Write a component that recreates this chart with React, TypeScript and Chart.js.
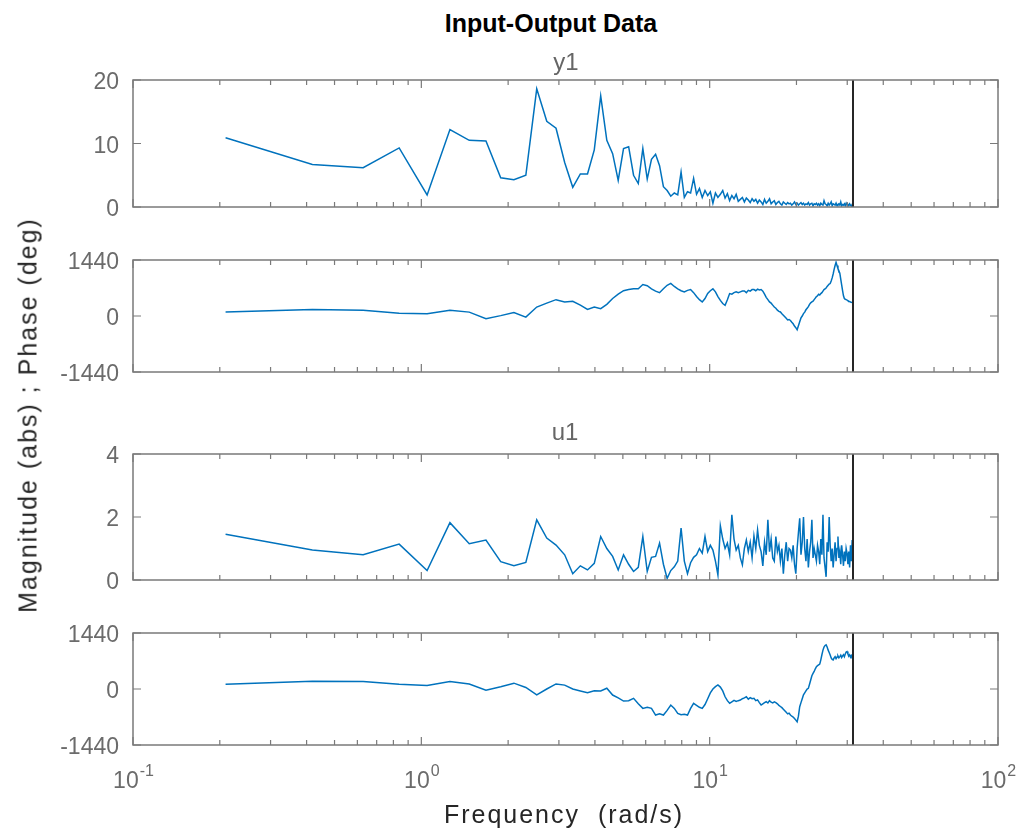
import React, { useEffect, useRef } from "react";
import { Chart, registerables } from "chart.js";

Chart.register(...registerables);

// ---------- data ----------
const FREQ_STEP = 0.20944; // rad/s, frequency grid spacing
const NYQUIST = 31.416; // rad/s
const X_TICKS = [0.1, 1, 10, 100];
const X_TICK_EXP = ["-1", "0", "1", "2"];

const Y_TICKS_MAG_Y1 = [0, 10, 20];
const Y_TICKS_PHASE = [-1440, 0, 1440];
const Y_TICKS_MAG_U1 = [0, 2, 4];

const magY1 = [
  10.9, 6.7, 6.2, 9.3, 1.9, 12.2, 10.5, 10.4, 4.6, 4.3, 5.0, 18.6, 13.5, 12.4, 7.0, 3.1,
  5.2, 5.2, 9.0, 17.5, 10.5, 8.4, 4.2, 9.2, 9.5, 5.0, 3.7, 9.2, 4.4, 7.5, 8.3, 6.5, 3.2,
  2.6, 1.7, 2.2, 1.9, 5.5, 1.5, 2.4,
  2.2, 4.5, 2.0, 2.9, 1.5, 2.6, 1.8, 2.4, 0.6, 2.2,
  1.5, 2.0, 2.6, 1.4, 2.1, 1.0, 1.8, 1.3, 2.0, 0.9, 1.2, 1.5, 0.8, 1.4, 1.1, 0.7, 1.3, 0.9, 1.2, 0.6,
  1.1, 0.8, 0.4, 1.2, 0.6, 0.9, 1.3, 0.5, 0.8, 1.0, 0.4, 0.7, 0.9, 0.5, 0.3, 0.8, 0.6, 0.4, 0.7, 0.5,
  0.6, 0.3, 0.5, 0.8, 0.4, 0.6, 0.3, 0.5, 0.7, 0.4, 0.6, 0.3, 0.5, 0.4, 0.7, 0.3, 0.5, 0.6, 0.2, 0.5,
  0.4, 0.6, 0.3, 0.5, 0.2, 0.6, 0.4, 0.3, 1.0, 0.5, 0.4, 0.2, 0.6, 0.3, 0.5, 0.8, 0.2, 0.5, 0.4, 0.3,
  0.6, 0.2, 0.4, 0.5, 0.3, 0.8, 0.2, 0.4, 0.3, 0.5, 0.2, 0.6, 0.3, 0.4, 0.2, 0.5, 0.3, 0.1, 0.4, 0.2,
];

const phaseY1 = [
  100, 170, 150, 70, 60, 150, 100, -70, 10, 90, -30, 230, 330, 420, 360, 380, 280, 170, 230, 190,
  300, 450, 560, 650, 680, 700, 700, 810, 780, 700, 640, 600, 700, 790, 840, 760, 700, 650, 620, 660,
  680, 600, 500, 420, 360, 450, 580, 650, 700, 620, 500, 400, 320, 276, 420, 576, 560, 600, 620, 600,
  620, 640, 645, 600, 660, 640, 680, 680, 650, 690, 670, 680, 640, 560, 480, 420, 361, 330, 280, 230,
  200, 150, 120, 103, 60, 20, -20, -60, -100, -90, -115, -160, -200, -260, -300, -353, -250, -150, -50, 0,
  62, 100, 160, 200, 240, 300, 340, 361, 380, 420, 460, 500, 520, 560, 540, 576, 600, 640, 680, 700,
  720, 760, 790, 820, 835, 900, 980, 1080, 1200, 1300, 1380, 1300, 1220, 1160, 1100, 950, 800, 650, 520, 450,
  430, 420, 410, 390, 380, 370, 360, 350, 345, 335,
];

const magU1 = [
  1.45, 0.95, 0.8, 1.14, 0.3, 1.82, 1.15, 1.27, 0.58, 0.45, 0.56, 1.91, 1.33, 1.11, 0.8, 0.2, 0.45, 0.32, 0.53, 1.38,
  1.0, 0.75, 0.32, 0.8, 0.5, 0.27, 0.4, 1.38, 0.27, 0.72, 0.75, 1.17, 0.5, 0.05, 0.3, 0.42, 0.6, 1.65, 0.6, 0.2,
  0.55, 0.72, 0.8, 1.0, 0.85, 1.38, 0.9, 1.1, 0.95, 0.6, 0.16, 1.72, 1.3, 1.0, 1.17, 0.8, 2.07, 1.3, 0.95, 1.1,
  0.7, 0.48, 1.0, 1.27, 0.9, 1.2, 0.7, 1.4, 1.0, 1.59, 1.1, 0.9, 0.45, 1.2, 0.8, 1.91, 0.9, 1.3, 0.7, 0.6,
  1.38, 0.9, 1.1, 0.6, 1.0, 0.2, 0.8, 1.2, 0.6, 1.0, 0.95, 0.7, 1.1, 0.5, 0.2, 1.0, 1.5, 1.96, 0.8, 1.2,
  2.0, 1.0, 0.6, 1.3, 0.4, 0.9, 1.2, 1.91, 0.7, 1.0, 0.8, 0.6, 1.1, 0.9, 0.5, 1.3, 0.8, 2.07, 0.7, 0.4,
  0.1, 1.2, 0.9, 2.0, 1.1, 0.6, 1.0, 0.4, 0.8, 1.2, 0.6, 1.0, 1.38, 0.7, 0.9, 0.5, 1.1, 0.8, 0.45, 0.9,
  0.6, 1.0, 0.85, 0.5, 0.9, 0.4, 1.1, 0.6, 1.27, 0.5,
];

const phaseU1 = [
  120, 200, 190, 120, 90, 190, 130, -30, 60, 150, 40, -150, 0, 130, 100, 0, -50, -95, -43, -50,
  20, -155, -230, -310, -300, -240, -380, -498, -470, -498, -670, -640, -670, -550, -413, -500, -627, -660, -650, -670,
  -500, -369, -420, -470, -500, -400, -250, -100, 0, 60, 103, 50, -50, -200, -300, -369, -330, -290, -320, -300,
  -284, -250, -230, -200, -260, -220, -250, -240, -300, -280, -350, -413, -380, -350, -327, -360, -300, -340, -360, -330,
  -350, -380, -420, -450, -480, -520, -560, -600, -640, -620, -670, -700, -720, -760, -800, -843, -700, -456, -350, -250,
  -150, -100, -50, 0, 17, 120, 230, 340, 400, 450, 520, 575, 600, 620, 640, 750, 880, 1000, 1080, 1120,
  1136, 1080, 1000, 940, 877, 800, 760, 748, 800, 830, 780, 820, 850, 800, 833, 870, 810, 850, 880, 830,
  900, 950, 963, 900, 850, 880, 820, 860, 791, 780,
];

const freqs = magY1.map((_, i) => (i + 1) * FREQ_STEP);

// ---------- layout / style ----------
const FONT = '"Liberation Sans", Arial, Helvetica, sans-serif';
const PLOT_L = 133;
const PLOT_R = 998;
const LINE_COLOR = "#0072BD";
const BOX_COLOR = "#7a7a7a";
const TICK_TEXT = "#6b6b6b";

type PanelCfg = {
  values: number[];
  ticks: number[];
  min: number;
  max: number;
  top: number;
  bottom: number;
  showX: boolean;
};

const PANELS: PanelCfg[] = [
  { values: magY1, ticks: Y_TICKS_MAG_Y1, min: 0, max: 20, top: 80, bottom: 207, showX: false },
  { values: phaseY1, ticks: Y_TICKS_PHASE, min: -1440, max: 1440, top: 260, bottom: 372, showX: false },
  { values: magU1, ticks: Y_TICKS_MAG_U1, min: 0, max: 4, top: 454, bottom: 580, showX: false },
  { values: phaseU1, ticks: Y_TICKS_PHASE, min: -1440, max: 1440, top: 633, bottom: 745, showX: true },
];

function axesPlugin(cfg: PanelCfg) {
  return {
    id: "matlabAxes",
    afterDatasetsDraw(chart: any) {
      const { ctx, chartArea, scales } = chart;
      const { left, right, top, bottom } = chartArea;
      const x = scales.x;
      const y = scales.y;
      ctx.save();
      // Nyquist line
      const nx = x.getPixelForValue(NYQUIST);
      ctx.strokeStyle = "#262626";
      ctx.lineWidth = 2;
      ctx.beginPath();
      ctx.moveTo(nx, top);
      ctx.lineTo(nx, bottom);
      ctx.stroke();
      // box
      ctx.strokeStyle = BOX_COLOR;
      ctx.lineWidth = 1.5;
      ctx.strokeRect(left, top, right - left, bottom - top);
      // x ticks (major + minor), inward on top and bottom
      ctx.lineWidth = 1.2;
      ctx.beginPath();
      for (let d = 0; d < X_TICKS.length; d++) {
        const dec = X_TICKS[d];
        const maxM = d === X_TICKS.length - 1 ? 1 : 9;
        for (let m = 1; m <= maxM; m++) {
          const px = x.getPixelForValue(dec * m);
          const len = m === 1 ? 8 : 5;
          ctx.moveTo(px, bottom);
          ctx.lineTo(px, bottom - len);
          ctx.moveTo(px, top);
          ctx.lineTo(px, top + len);
        }
      }
      // y ticks, inward on left and right
      cfg.ticks.forEach((v) => {
        const py = y.getPixelForValue(v);
        ctx.moveTo(left, py);
        ctx.lineTo(left + 8, py);
        ctx.moveTo(right, py);
        ctx.lineTo(right - 8, py);
      });
      ctx.stroke();
      // x tick labels with superscript exponents
      if (cfg.showX) {
        ctx.fillStyle = TICK_TEXT;
        ctx.textBaseline = "alphabetic";
        ctx.textAlign = "left";
        X_TICKS.forEach((v, i) => {
          const px = x.getPixelForValue(v);
          ctx.font = `23px ${FONT}`;
          const wBase = ctx.measureText("10").width;
          ctx.font = `16px ${FONT}`;
          const wExp = ctx.measureText(X_TICK_EXP[i]).width;
          const start = px - (wBase + wExp) / 2;
          ctx.font = `23px ${FONT}`;
          ctx.fillText("10", start, bottom + 43);
          ctx.font = `16px ${FONT}`;
          ctx.fillText(X_TICK_EXP[i], start + wBase + 1, bottom + 31);
        });
      }
      ctx.restore();
    },
  };
}

function Panel({ cfg }: { cfg: PanelCfg }) {
  const ref = useRef<HTMLCanvasElement | null>(null);
  const PAD_T = 34;
  const PAD_B = cfg.showX ? 60 : 34;
  const canvasTop = cfg.top - PAD_T;
  const height = cfg.bottom - cfg.top + PAD_T + PAD_B;

  useEffect(() => {
    if (!ref.current) return;
    const chart = new Chart(ref.current, {
      type: "line",
      data: {
        datasets: [
          {
            data: freqs.map((f, i) => ({ x: f, y: cfg.values[i] })),
            borderColor: LINE_COLOR,
            borderWidth: 1.5,
            pointRadius: 0,
            fill: false,
            tension: 0,
          },
        ],
      },
      options: {
        animation: false,
        responsive: false,
        maintainAspectRatio: false,
        layout: { padding: { left: 0, right: 1024 - PLOT_R, top: PAD_T, bottom: PAD_B } },
        plugins: {
          legend: { display: false },
          tooltip: { enabled: false },
          title: { display: false },
        },
        scales: {
          x: {
            type: "logarithmic",
            min: 0.1,
            max: 100,
            display: true,
            grid: { display: false, drawTicks: false },
            border: { display: false },
            ticks: { display: false },
            afterFit: (s: any) => {
              s.height = 0;
            },
          },
          y: {
            type: "linear",
            min: cfg.min,
            max: cfg.max,
            grid: { display: false, drawTicks: false },
            border: { display: false },
            ticks: {
              color: TICK_TEXT,
              font: { family: FONT, size: 23 },
              padding: 14,
              labelOffset: 3,
              autoSkip: false,
              callback: (v: any) => String(v),
            },
            afterBuildTicks: (s: any) => {
              s.ticks = cfg.ticks.map((v) => ({ value: v }));
            },
            afterFit: (s: any) => {
              s.width = PLOT_L;
            },
          },
        },
      } as any,
      plugins: [axesPlugin(cfg)],
    });
    return () => chart.destroy();
  }, []);

  return (
    <canvas
      ref={ref}
      width={1024}
      height={height}
      style={{ position: "absolute", left: 0, top: canvasTop, width: 1024, height }}
    />
  );
}

const textBase: React.CSSProperties = {
  position: "absolute",
  whiteSpace: "pre",
  lineHeight: 1,
  fontFamily: FONT,
  transform: "translate(-50%, -50%)",
};

export default function App() {
  return (
    <div
      style={{
        position: "absolute",
        left: 0,
        top: 0,
        width: 1024,
        height: 832,
        background: "#fff",
        overflow: "hidden",
      }}
    >
      {PANELS.map((p, i) => (
        <Panel key={i} cfg={p} />
      ))}
      <div style={{ ...textBase, left: 551, top: 23, fontSize: 25, fontWeight: "bold", color: "#000" }}>
        Input-Output Data
      </div>
      <div style={{ ...textBase, left: 566, top: 62, fontSize: 24, color: "#666" }}>y1</div>
      <div style={{ ...textBase, left: 565, top: 432, fontSize: 24, color: "#666" }}>u1</div>
      <div
        style={{ ...textBase, left: 564, top: 814, fontSize: 25, letterSpacing: "2px", color: "#262626" }}
      >
        {"Frequency  (rad/s)"}
      </div>
      <div
        style={{
          ...textBase,
          left: 28,
          top: 415,
          fontSize: 25,
          letterSpacing: "2px",
          color: "#262626",
          transform: "translate(-50%, -50%) rotate(-90deg)",
        }}
      >
        Magnitude (abs) ; Phase (deg)
      </div>
    </div>
  );
}
